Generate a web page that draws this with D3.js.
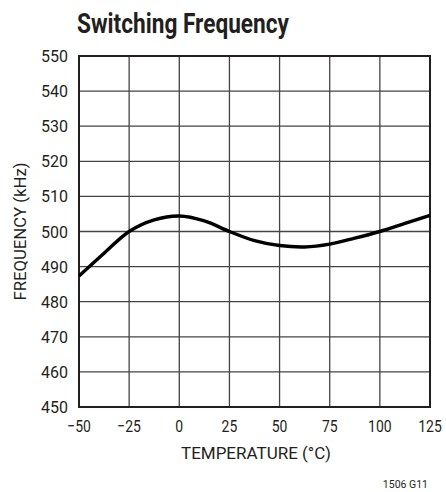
<!DOCTYPE html>
<meta charset="utf-8">
<html>
<head>
    <title>Switching Frequency</title>
</head>
<style>
    *{ margin:0; padding:0;}
    body{ background:#fff;}
    text{ font-family:'Roboto','Liberation Sans',sans-serif; fill:#231f20;}
</style>
<script src="https://cdn.jsdelivr.net/npm/d3@7"></script>
<div id="chartContainer"></div>
<script type="text/javascript">

    // temperature (C) vs switching frequency (kHz)
    var temps = [-50, -37.5, -25, -12.5, 0, 12.5, 25, 37.5, 50, 62.5, 75, 87.5, 100, 112.5, 125];
    var freqs = [487.3, 493.8, 500, 503.3, 504.4, 503.0, 500, 497.4, 496.0, 495.6, 496.4, 498.1, 500, 502.3, 504.6];
    var xTicks = [-50, -25, 0, 25, 50, 75, 100, 125];
    var yTicks = [450, 460, 470, 480, 490, 500, 510, 520, 530, 540, 550];

    var W = 446, H = 492;
    var pl = 79, pr = 430, pt = 56, pb = 407;

    var svg = d3.select("#chartContainer").append("svg")
        .attr("width", W)
        .attr("height", H);

    var x = d3.scaleLinear().domain([-50, 125]).range([pl, pr]);
    var y = d3.scaleLinear().domain([450, 550]).range([pb, pt]);

    // grid
    svg.append("g").selectAll("line").data(xTicks.slice(1, -1)).enter().append("line")
        .attr("x1", d => x(d)).attr("x2", d => x(d))
        .attr("y1", pt).attr("y2", pb)
        .attr("stroke", "#444").attr("stroke-width", 1.3);
    svg.append("g").selectAll("line").data(yTicks.slice(1, -1)).enter().append("line")
        .attr("y1", d => y(d)).attr("y2", d => y(d))
        .attr("x1", pl).attr("x2", pr)
        .attr("stroke", "#444").attr("stroke-width", 1.3);

    // frame
    svg.append("rect")
        .attr("x", pl).attr("y", pt)
        .attr("width", pr - pl).attr("height", pb - pt)
        .attr("fill", "none").attr("stroke", "#231f20").attr("stroke-width", 2);

    // curve
    var line = d3.line()
        .x((d, i) => x(temps[i]))
        .y(d => y(d))
        .curve(d3.curveCatmullRom);
    svg.append("path")
        .datum(freqs)
        .attr("d", line)
        .attr("fill", "none")
        .attr("stroke", "#000")
        .attr("stroke-width", 3.4)
        .attr("stroke-linejoin", "round");

    // tick labels
    svg.append("g").selectAll("text").data(yTicks).enter().append("text")
        .attr("x", 68).attr("y", d => y(d) + 6)
        .attr("text-anchor", "end")
        .attr("textLength", 27).attr("lengthAdjust", "spacingAndGlyphs")
        .style("font-size", "17px")
        .text(d => d);
    svg.append("g").selectAll("text").data(xTicks).enter().append("text")
        .attr("x", d => x(d)).attr("y", 432)
        .attr("text-anchor", "middle")
        .style("font-size", "17px")
        .text(d => d < 0 ? "\u2212" + Math.abs(d) : d)
        .each(function() {
            // squeeze to look like a condensed face
            var w = this.getComputedTextLength();
            d3.select(this).attr("textLength", w * 0.82).attr("lengthAdjust", "spacingAndGlyphs");
        });

    // titles
    svg.append("text")
        .attr("x", 77).attr("y", 33)
        .attr("textLength", 212).attr("lengthAdjust", "spacingAndGlyphs")
        .style("font-size", "28px")
        .style("font-weight", "bold")
        .text("Switching Frequency");
    svg.append("text")
        .attr("x", 256).attr("y", 459)
        .attr("text-anchor", "middle")
        .attr("textLength", 150).attr("lengthAdjust", "spacingAndGlyphs")
        .style("font-size", "17px")
        .text("TEMPERATURE (\u00B0C)");
    svg.append("text")
        .attr("transform", "translate(26," + ((pt + pb) / 2) + ") rotate(-90)")
        .attr("text-anchor", "middle")
        .attr("textLength", 138).attr("lengthAdjust", "spacingAndGlyphs")
        .style("font-size", "17px")
        .text("FREQUENCY (kHz)");
    svg.append("text")
        .attr("x", 428).attr("y", 488)
        .attr("text-anchor", "end")
        .style("font-size", "10.5px")
        .text("1506 G11");
</script>
</html>
